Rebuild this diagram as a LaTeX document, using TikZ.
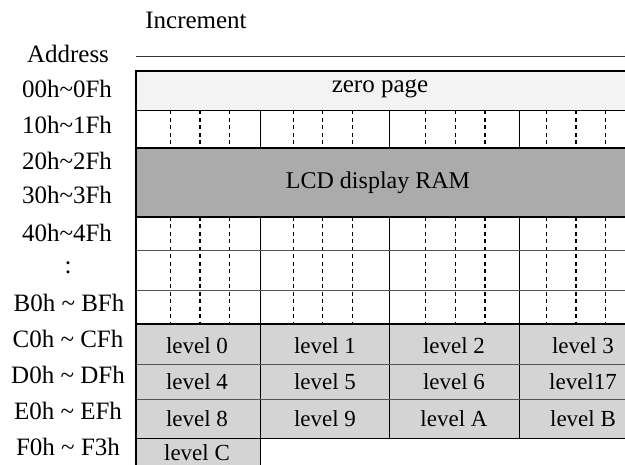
\documentclass[tikz,border=0pt]{standalone}
\usepackage{fontspec}
\setmainfont{Liberation Serif}
\usetikzlibrary{arrows.meta}
\definecolor{zerofill}{HTML}{F3F3F3}
\definecolor{lcdfill}{HTML}{ABABAB}
\definecolor{levelfill}{HTML}{D4D4D4}
\definecolor{gridgray}{HTML}{555555}
\tikzset{
  lbl/.style={inner sep=0pt, anchor=center},
  addr/.style={lbl, font=\fontsize{25}{28}\selectfont},
  thickline/.style={line width=1.9pt, black},
  solidline/.style={line width=1.3pt, black},
  thinline/.style={line width=0.9pt, gridgray},
  dashline/.style={line width=1.1pt, black, dash pattern=on 4pt off 3.5pt},
}
\begin{document}
\begin{tikzpicture}[x=1pt,y=-1pt,font=\fontsize{23}{26}\selectfont]
\useasboundingbox (0,0) rectangle (625,465);
\clip (0,0) rectangle (625,465);
% fills
\fill[zerofill] (136.3,71) rectangle (660,110.5);
\fill[lcdfill] (136.3,148) rectangle (660,216.7);
\fill[levelfill] (136.3,324) rectangle (660,438.3);
\fill[levelfill] (136.3,438.3) rectangle (260.7,480);
% dashed subdivisions
\foreach \x in {170.7,200,229.7,293.3,322.7,352.7,425.7,455.3,485,546.7,576,605.7}{
  \draw[dashline] (\x,110.5) -- (\x,148);
  \draw[dashline] (\x,216.7) -- (\x,324);
}
% column lines
\foreach \x in {260.7,389.3,519.3}{
  \draw[solidline] (\x,110.5) -- (\x,148);
  \draw[solidline] (\x,216.7) -- (\x,324);
  \draw[solidline] (\x,324) -- (\x,438.3);
}
% horizontal lines
\draw[solidline] (136.3,110.5) -- (660,110.5);
\draw[thinline] (136.3,250) -- (660,250);
\draw[thinline] (136.3,290.7) -- (660,290.7);
\draw[thinline] (136.3,364.3) -- (660,364.3);
\draw[thinline] (136.3,399) -- (660,399);
\draw[thickline] (136.3,148) -- (660,148);
\draw[thickline] (136.3,216.7) -- (660,216.7);
\draw[thickline] (136.3,324) -- (660,324);
\draw[solidline] (136.3,438.3) -- (660,438.3);
\draw[solidline] (260.7,438.3) -- (260.7,480);
\draw[thickline] (136.3,71) -- (660,71);
\draw[thickline] (136.3,70.05) -- (136.3,480);
% increment arrow
\coordinate (arrS) at (136.3,56);
\coordinate (arrE) at (633,56);
\draw[line width=0.9pt, gridgray!60!black, -{Stealth[length=8pt,width=6pt]}] (arrS) -- (arrE);
% texts
\node[addr] (inc) at (196,20) {Increment};
\node[addr] (addrlabel) at (68,54) {Address};
\node[addr] (a00) at (67,89) {00h\char`\~0Fh};
\node[addr] (a10) at (67,125) {10h\char`\~1Fh};
\node[addr] (a20) at (67,161) {20h\char`\~2Fh};
\node[addr] (a30) at (67,195) {30h\char`\~3Fh};
\node[addr] (a40) at (67,233) {40h\char`\~4Fh};
\node[addr] (adots) at (68,268) {:};
\node[addr] (aB0) at (69,303) {B0h \char`\~{} BFh};
\node[addr] (aC0) at (68,339) {C0h \char`\~{} CFh};
\node[addr] (aD0) at (68,375) {D0h \char`\~{} DFh};
\node[addr] (aE0) at (68,411) {E0h \char`\~{} EFh};
\node[addr] (aF0) at (68,447) {F0h \char`\~{} F3h};
\node[lbl, font=\fontsize{25}{28}\selectfont] (zp) at (380,89) {zero page};
\node[lbl, font=\fontsize{24}{27}\selectfont] (lcd) at (378,183) {LCD display RAM};
\node[lbl] (l0) at (197,346) {level 0};
\node[lbl] (l1) at (325,346) {level 1};
\node[lbl] (l2) at (454,346) {level 2};
\node[lbl] (l3) at (583,346) {level 3};
\node[lbl] (l4) at (197,382) {level 4};
\node[lbl] (l5) at (325,382) {level 5};
\node[lbl] (l6) at (454,382) {level 6};
\node[lbl] (l7) at (583,382) {level17};
\node[lbl] (l8) at (197,419) {level 8};
\node[lbl] (l9) at (325,419) {level 9};
\node[lbl] (lA) at (454,419) {level A};
\node[lbl] (lB) at (583,419) {level B};
\node[lbl] (lC) at (197,453) {level C};
\end{tikzpicture}
\end{document}
